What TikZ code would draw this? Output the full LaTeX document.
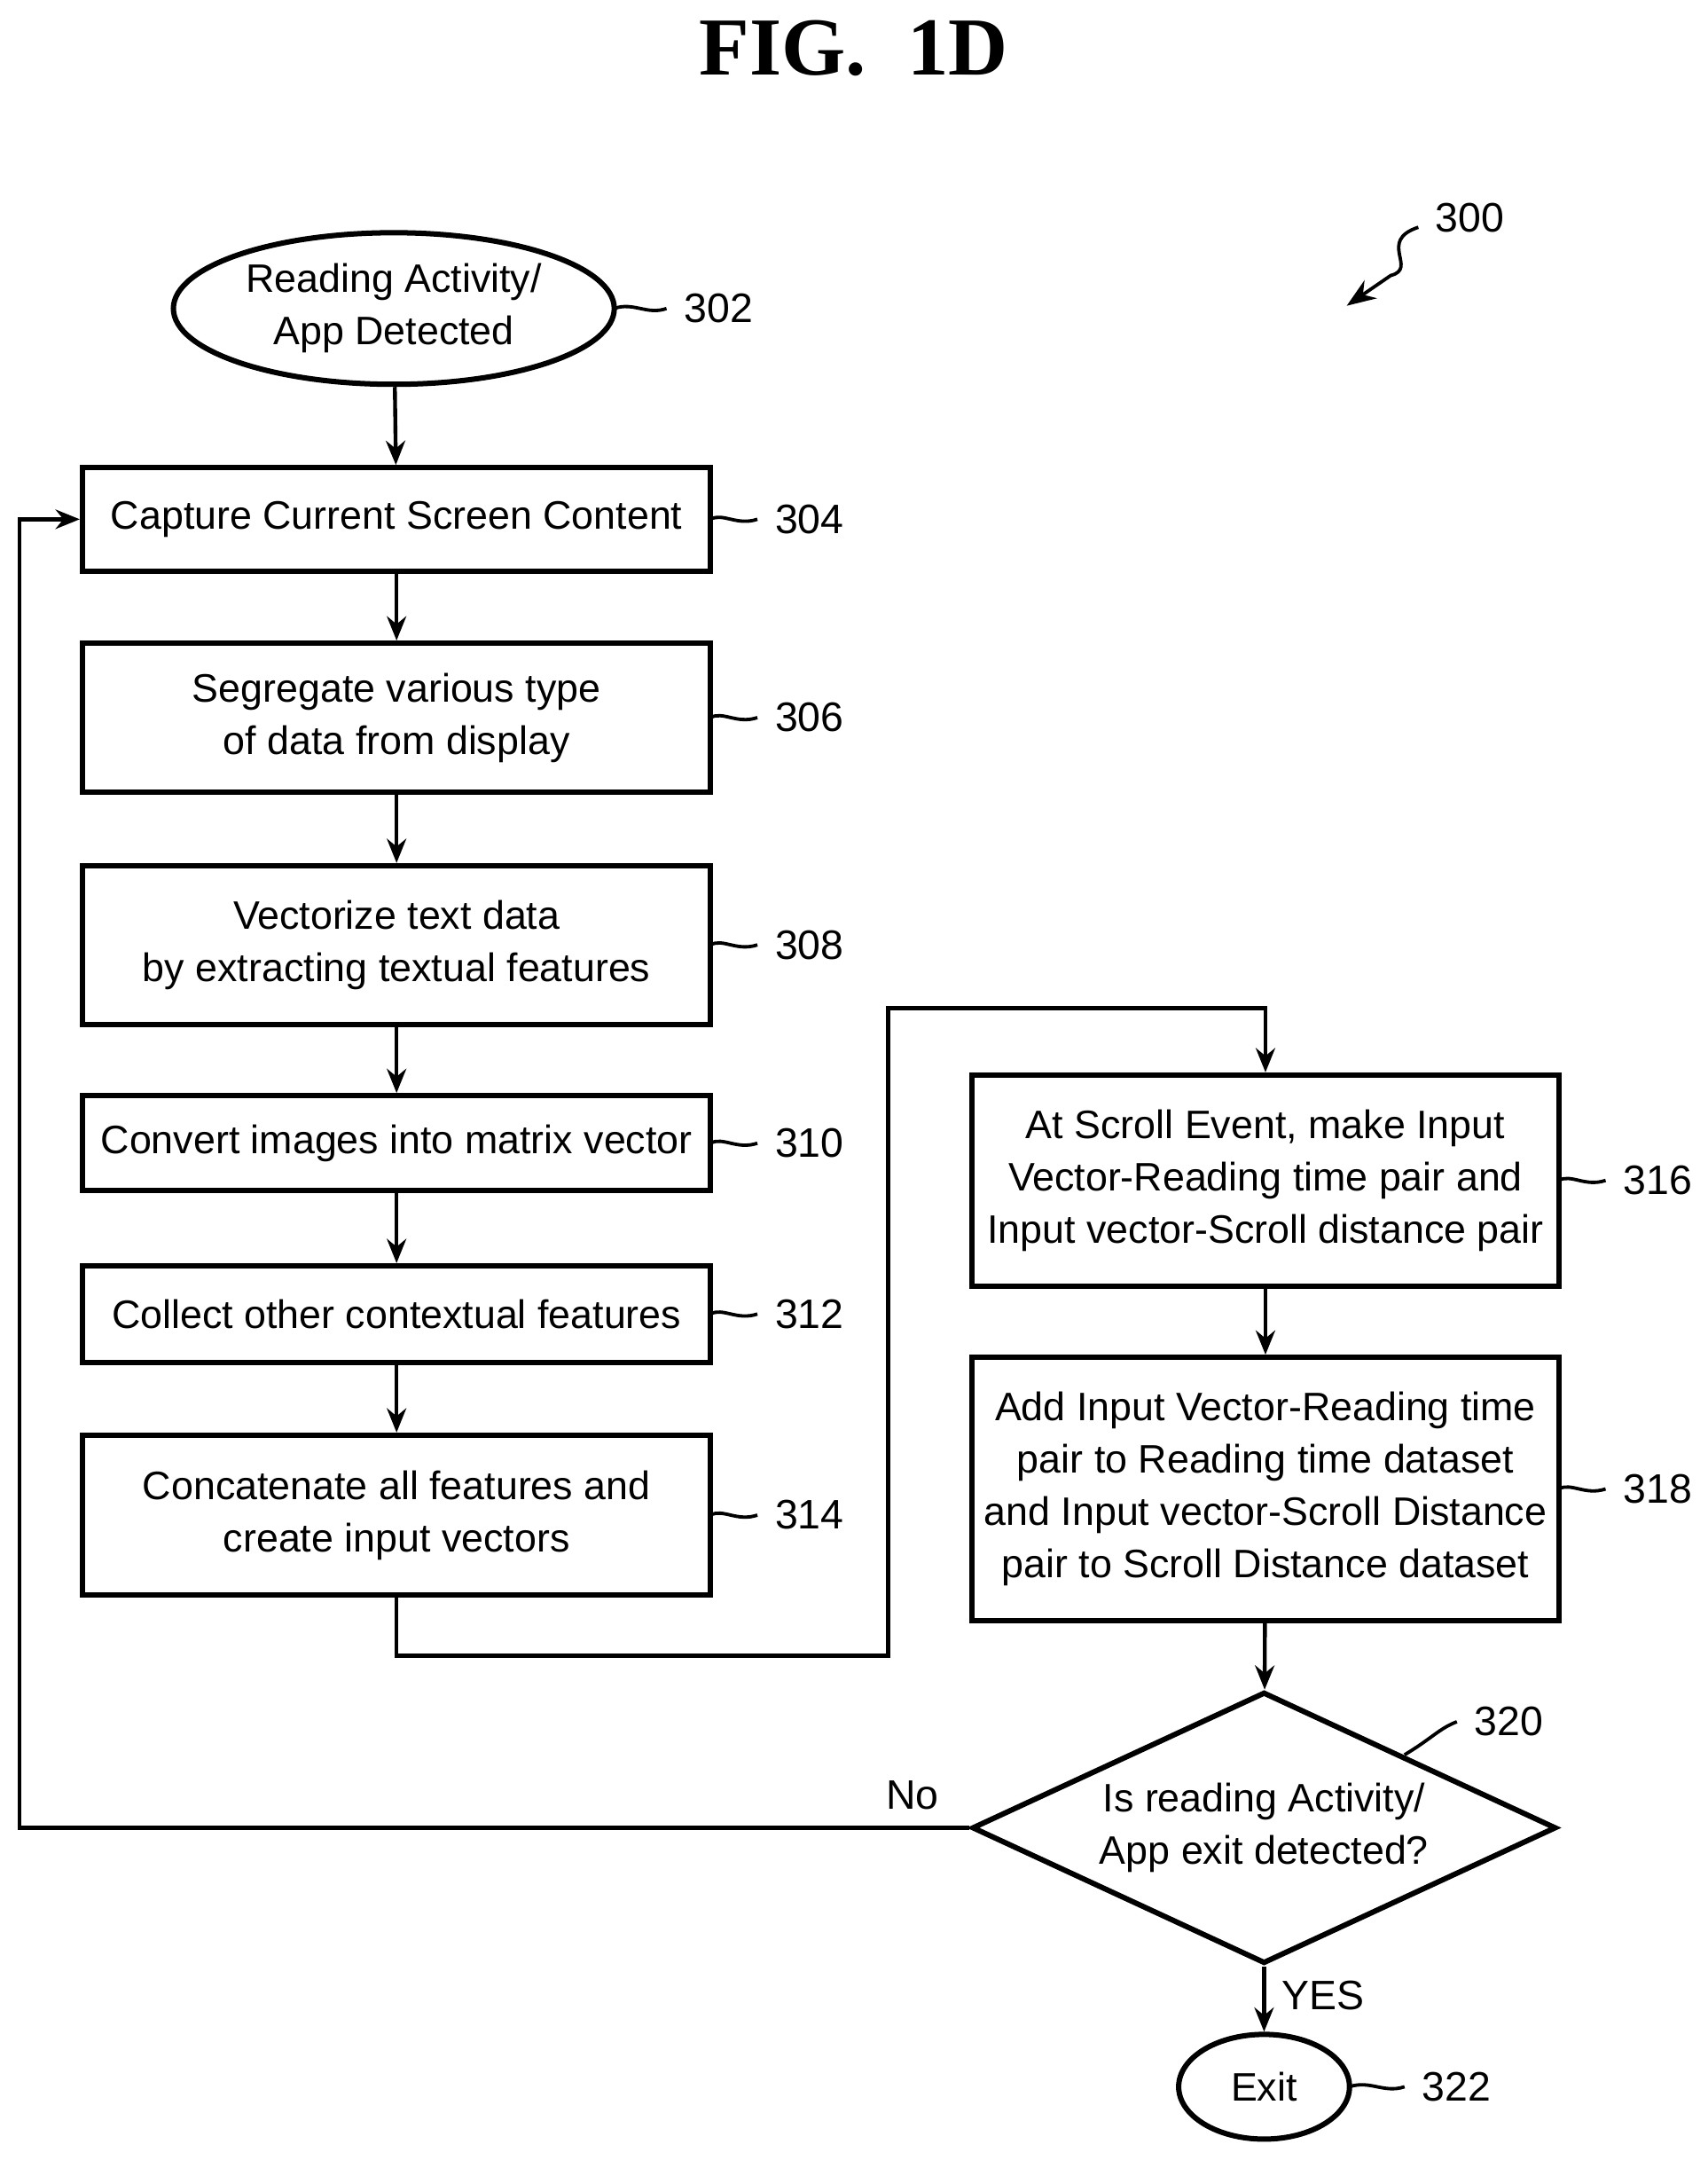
\documentclass[tikz,border=0pt]{standalone}
\usepackage{fontspec}
\setmainfont{Liberation Sans}
\newfontfamily\titlefont{Liberation Serif}
\usetikzlibrary{shapes.geometric,arrows.meta,calc}
\begin{document}
\begin{tikzpicture}[x=0.01cm,y=-0.01cm,
  box/.style={rectangle,draw,line width=1.1pt,align=center,inner xsep=1pt,font=\fontsize{8.2}{10.8}\selectfont},
  lbl/.style={font=\fontsize{8.5}{11}\selectfont,anchor=west},
  flow/.style={line width=0.8pt,-{Stealth[length=5pt,width=4pt]}},
  tick/.style={line width=0.7pt}]
\useasboundingbox (0,0) rectangle (1240,1574);
\node[font=\bfseries\titlefont\fontsize{17}{20}\selectfont] (title) at (620,35) {FIG.\ \ 1D};
\node[lbl] (n300) at (1030,158) {300};
\draw[tick,-{Stealth[length=6pt]}] (1030,165) .. controls (1000,175) and (1030,195) .. (1010,200) -- (978,222);

\node[ellipse,draw,line width=1.1pt,inner sep=0pt,minimum width=3.2cm,minimum height=1.1cm,align=center,font=\fontsize{8.2}{10.8}\selectfont] (s302) at (286,224) {Reading Activity/\\App Detected};
\node[box,minimum width=4.56cm,minimum height=0.75cm] (s304) at (288,377) {Capture Current Screen Content};
\node[box,minimum width=4.56cm,minimum height=1.08cm] (s306) at (288,521) {Segregate various type\\of data from display};
\node[box,minimum width=4.56cm,minimum height=1.15cm] (s308) at (288,686) {Vectorize text data\\by extracting textual features};
\node[box,minimum width=4.56cm,minimum height=0.69cm] (s310) at (288,830) {Convert images into matrix vector};
\node[box,minimum width=4.56cm,minimum height=0.7cm] (s312) at (288,954) {Collect other contextual features};
\node[box,minimum width=4.56cm,minimum height=1.16cm] (s314) at (288,1100) {Concatenate all features and\\create input vectors};
\node[box,minimum width=4.26cm,minimum height=1.53cm] (s316) at (919,857) {At Scroll Event, make Input\\Vector-Reading time pair and\\Input vector-Scroll distance pair};
\node[box,minimum width=4.26cm,minimum height=1.91cm] (s318) at (919,1081) {Add Input Vector-Reading time\\pair to Reading time dataset\\and Input vector-Scroll Distance\\pair to Scroll Distance dataset};
\node[diamond,draw,line width=1.1pt,aspect=2.15,inner sep=0pt,minimum width=4.24cm,minimum height=1.97cm,align=center,font=\fontsize{8.2}{10.8}\selectfont] (s320) at (918,1327) {Is reading Activity/\\App exit detected?};
\node[ellipse,draw,line width=1.1pt,inner sep=0pt,minimum width=1.24cm,minimum height=0.76cm,font=\fontsize{8.2}{10.8}\selectfont] (s322) at (918,1515) {Exit};

\foreach \n/\y in {304/377,306/521,308/686,310/830,312/954,314/1100}
  \draw[tick] (516,\y) .. controls (525,\y-5) and (535,\y+5) .. (550,\y) node[lbl] {\n};
\foreach \n/\y in {316/857,318/1081}
  \draw[tick] (1132,\y) .. controls (1141,\y-5) and (1151,\y+5) .. (1166,\y) node[lbl] {\n};
\draw[tick] (446,224) .. controls (460,219) and (470,229) .. (484,224) node[lbl] {302};
\draw[tick] (1020,1274) .. controls (1040,1262) and (1045,1255) .. (1058,1250) node[lbl] {320};
\draw[tick] (980,1515) .. controls (995,1510) and (1005,1520) .. (1020,1515) node[lbl] {322};

\draw[flow] (s302) -- (s304);
\draw[flow] (s304) -- (s306);
\draw[flow] (s306) -- (s308);
\draw[flow] (s308) -- (s310);
\draw[flow] (s310) -- (s312);
\draw[flow] (s312) -- (s314);
\draw[flow] (s314.south) -- ++(0,42) -| (645,732) -| (s316.north);
\draw[flow] (s316) -- (s318);
\draw[flow] (s318) -- (s320);
\draw[flow] (s320) -- node[pos=0.45,right,font=\fontsize{8.5}{11}\selectfont] {YES} (s322);
\draw[flow] (s320.west) -- node[pos=0.06,above,font=\fontsize{8.5}{11}\selectfont] {No} (14,1327) |- (s304.west);
\end{tikzpicture}
\end{document}
